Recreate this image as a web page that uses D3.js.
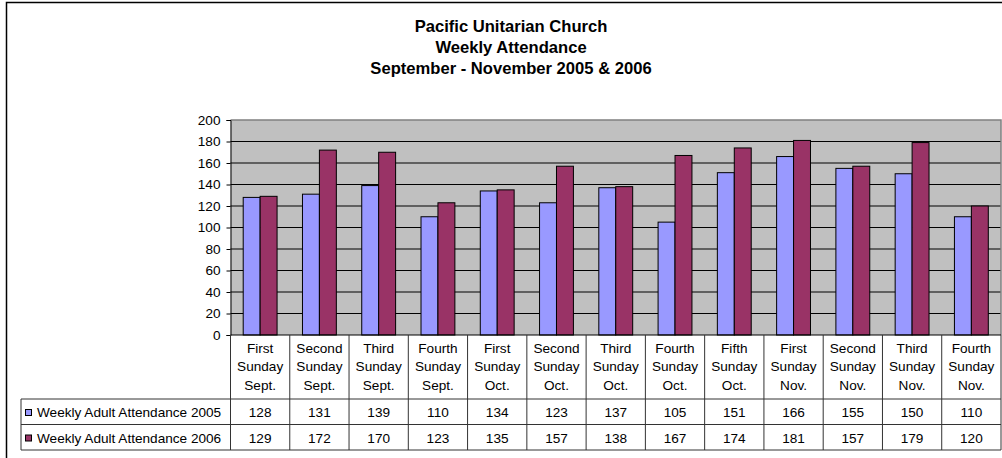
<!DOCTYPE html>
<html>
<head>
<meta charset="utf-8">
<script src="https://cdn.jsdelivr.net/npm/d3@7/dist/d3.min.js"></script>
<style>
  body { margin: 0; background: #fff; }
  svg text { font-family: "Liberation Sans", Arial, sans-serif; fill: #000; }
</style>
</head>
<body>
<div id="vis"></div>
<script>
// chart data
const titleLines = ['Pacific Unitarian Church', 'Weekly Attendance', 'September - November 2005 & 2006'];
const weeks = ['First', 'Second', 'Third', 'Fourth', 'First', 'Second', 'Third', 'Fourth', 'Fifth', 'First', 'Second', 'Third', 'Fourth'];
const months = ['Sept.', 'Sept.', 'Sept.', 'Sept.', 'Oct.', 'Oct.', 'Oct.', 'Oct.', 'Oct.', 'Nov.', 'Nov.', 'Nov.', 'Nov.'];
const seriesNames = ['Weekly Adult Attendance 2005', 'Weekly Adult Attendance 2006'];
const att2005 = [128, 131, 139, 110, 134, 123, 137, 105, 151, 166, 155, 150, 110];
const att2006 = [129, 172, 170, 123, 135, 157, 138, 167, 174, 181, 157, 179, 120];
const yTicks = [0, 20, 40, 60, 80, 100, 120, 140, 160, 180, 200];
const colors = ['#9999FF', '#993366'];

let categories = weeks.map((w, i) => i);
let series = [att2005, att2006];

let width = 1002, height = 458;
let plot = {left: 230.5, right: 1001, top: 120, bottom: 335};
let headerBottom = 399, rowH = 25.5, legendLeft = 21;
let tableFont = '13.6px';

let svg = d3.select('#vis')
    .append('svg')
    .attr('width', width)
    .attr('height', height);

// outer chart border
svg.append('rect')
    .attr('x', 6.5).attr('y', 2.5)
    .attr('width', 1000).attr('height', 470)
    .attr('fill', 'none')
    .attr('stroke', '#000')
    .attr('stroke-width', 1.5);

// title
svg.append('g')
    .selectAll('text')
    .data(titleLines)
    .enter()
    .append('text')
    .attr('x', 511)
    .attr('y', (d, i) => 31.5 + i * 21.3)
    .attr('text-anchor', 'middle')
    .style('font-size', '16.6px')
    .style('font-weight', 'bold')
    .text(d => d);

// scales
let x0 = d3.scaleBand()
    .domain(categories)
    .range([plot.left, plot.right]);

let x1 = d3.scaleBand()
    .domain([0, 1])
    .range([0, x0.bandwidth()])
    .paddingOuter(0.75);

let y = d3.scaleLinear()
    .domain([0, 200])
    .range([plot.bottom, plot.top]);

// plot area
svg.append('rect')
    .attr('x', plot.left).attr('y', plot.top)
    .attr('width', plot.right - plot.left)
    .attr('height', plot.bottom - plot.top)
    .attr('fill', '#C0C0C0');

// gridlines
svg.append('g')
    .selectAll('line')
    .data(yTicks.slice(1, -1))
    .enter()
    .append('line')
    .attr('x1', plot.left).attr('x2', plot.right)
    .attr('y1', d => y(d)).attr('y2', d => y(d))
    .attr('stroke', '#000')
    .attr('stroke-width', 1);

// plot border top / right (grey)
svg.append('path')
    .attr('d', `M${plot.left},${y(200)}H${plot.right}V${plot.bottom}`)
    .attr('fill', 'none')
    .attr('stroke', '#808080')
    .attr('stroke-width', 1.5);

// bars
let bar = svg.selectAll('g.bar')
    .data(categories)
    .enter()
    .append('g')
    .attr('class', 'bar')
    .attr('transform', d => 'translate(' + x0(d) + ',0)');

bar.selectAll('rect')
    .data(d => series.map((s, k) => ({k: k, v: s[d]})))
    .enter()
    .append('rect')
    .attr('x', d => x1(d.k))
    .attr('y', d => y(d.v))
    .attr('width', x1.bandwidth())
    .attr('height', d => y(0) - y(d.v))
    .attr('fill', d => colors[d.k])
    .attr('stroke', '#000')
    .attr('stroke-width', 1);

// y axis
let yAxis = svg.append('g')
    .attr('transform', 'translate(' + plot.left + ',0)')
    .call(d3.axisLeft(y).tickValues(yTicks).tickSize(4).tickPadding(6));
yAxis.selectAll('text').style('font-size', tableFont).style('font-family', '"Liberation Sans", Arial, sans-serif');
yAxis.selectAll('line').attr('stroke', '#000');
yAxis.select('.domain').attr('stroke', '#000');

// x axis line
svg.append('line')
    .attr('x1', plot.left).attr('x2', plot.right)
    .attr('y1', plot.bottom).attr('y2', plot.bottom)
    .attr('stroke', '#000');

// data table
let table = svg.append('g').attr('class', 'table');
let tableBottom = headerBottom + 2 * rowH;

// vertical column lines
table.selectAll('line.col')
    .data(categories.concat([categories.length]))
    .enter()
    .append('line')
    .attr('class', 'col')
    .attr('x1', d => d < categories.length ? x0(d) : plot.right)
    .attr('x2', d => d < categories.length ? x0(d) : plot.right)
    .attr('y1', plot.bottom).attr('y2', tableBottom)
    .attr('stroke', '#333');

// horizontal row lines
table.selectAll('line.row')
    .data([0, 1, 2])
    .enter()
    .append('line')
    .attr('class', 'row')
    .attr('x1', legendLeft).attr('x2', plot.right)
    .attr('y1', d => headerBottom + d * rowH)
    .attr('y2', d => headerBottom + d * rowH)
    .attr('stroke', '#333');

table.append('line')
    .attr('x1', legendLeft).attr('x2', legendLeft)
    .attr('y1', headerBottom).attr('y2', tableBottom)
    .attr('stroke', '#333');

// header labels
let header = table.selectAll('text.head')
    .data(categories)
    .enter()
    .append('text')
    .attr('class', 'head')
    .attr('text-anchor', 'middle')
    .style('font-size', tableFont);

[d => weeks[d], d => 'Sunday', d => months[d]].forEach((f, li) => {
    header.append('tspan')
        .attr('x', d => x0(d) + x0.bandwidth() / 2)
        .attr('y', 352.5 + li * 18.7)
        .text(f);
});

// values
series.forEach((s, k) => {
    table.selectAll('text.v' + k)
        .data(categories)
        .enter()
        .append('text')
        .attr('class', 'v' + k)
        .attr('x', d => x0(d) + x0.bandwidth() / 2)
        .attr('y', headerBottom + k * rowH + 18)
        .attr('text-anchor', 'middle')
        .style('font-size', tableFont)
        .text(d => s[d]);

    table.append('rect')
        .attr('x', 25.5)
        .attr('y', headerBottom + k * rowH + 10.5)
        .attr('width', 6).attr('height', 6)
        .attr('fill', colors[k])
        .attr('stroke', '#000');

    table.append('text')
        .attr('x', 37)
        .attr('y', headerBottom + k * rowH + 18)
        .style('font-size', tableFont)
        .text(seriesNames[k]);
});
</script>
</body>
</html>
